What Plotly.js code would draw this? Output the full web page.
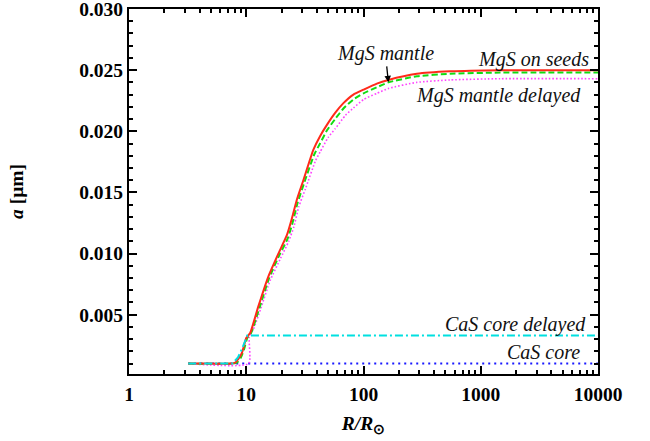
<!DOCTYPE html>
<html>
<head>
<meta charset="utf-8">
<script src="https://cdn.plot.ly/plotly-3.0.1.min.js"></script>
<style>
  html, body { margin: 0; padding: 0; background: #fff; }
  #chart { width: 650px; height: 441px; }
</style>
</head>
<body>
<div id="chart"></div>
<script>
// Grain radius a [um] versus distance R/Rsun for the sulphide dust models
var seedsR  = [3.2, 5, 7.5, 8.0, 8.6, 9.2, 10, 10.8, 12.7, 15.4, 18.8, 22.2, 24.4, 27, 30.7, 37.4, 42.6, 48.6, 57.3, 67.4, 82, 100, 130, 163, 285, 548, 1465, 10000];
var seedsA  = [0.0010, 0.0010, 0.0010, 0.00107, 0.0014, 0.0019, 0.0031, 0.0035, 0.0057, 0.0081, 0.0100, 0.0115, 0.0128, 0.0144, 0.0160, 0.0185, 0.0196, 0.0205, 0.0215, 0.0223, 0.0230, 0.0234, 0.0239, 0.0242, 0.0247, 0.0249, 0.0250, 0.0250];

var mantleR = [3.2, 7.5, 8.3, 9.0, 9.6, 10.2, 11, 13, 15.7, 19.2, 22.5, 24.8, 27.5, 31, 38, 42.6, 49, 57.3, 68, 82, 100, 130, 163, 285, 548, 1465, 10000];
var mantleA = [0.0010, 0.0010, 0.00107, 0.0015, 0.0022, 0.0031, 0.0035, 0.0056, 0.0080, 0.0099, 0.0112, 0.0125, 0.0142, 0.0157, 0.0181, 0.0190, 0.0201, 0.0210, 0.0219, 0.0226, 0.0231, 0.0236, 0.0240, 0.0245, 0.0247, 0.0248, 0.0248];

var delayedR = [3.2, 10.5, 10.6, 11.5, 13.3, 16, 19.6, 23, 25.5, 28, 32, 39, 42.6, 50, 57.3, 70, 82, 100, 130, 163, 285, 548, 1465, 10000];
var delayedA = [0.0010, 0.0010, 0.0032, 0.0038, 0.0055, 0.0078, 0.0096, 0.0110, 0.0122, 0.0138, 0.0153, 0.0176, 0.0183, 0.0195, 0.0202, 0.0213, 0.0219, 0.0226, 0.0231, 0.0235, 0.0240, 0.0242, 0.0243, 0.0243];

var coreDelayedR = [3.2, 7.6, 8.5, 9.3, 10.2, 10000];
var coreDelayedA = [0.0010, 0.0010, 0.0015, 0.0023, 0.0033, 0.0033];

var coreR = [3.2, 10000];
var coreA = [0.0010, 0.0010];

// Axis ticks
var xMajor = [1, 10, 100, 1000, 10000];
var xMajorText = ['1', '10', '100', '1000', '10000'];
var yMajor = [0.005, 0.010, 0.015, 0.020, 0.025, 0.030];
var yMajorText = ['0.005', '0.010', '0.015', '0.020', '0.025', '0.030'];

var xMinor = [];
[1, 10, 100, 1000].forEach(function (d) {
  for (var m = 2; m <= 9; m++) xMinor.push(m * d);
});
var yMinor = [];
for (var i = 1; i < 30; i++) {
  if (i % 5 !== 0) yMinor.push(i / 1000);
}

var serif = 'Liberation Serif, Times New Roman, serif';

var traces = [
  { x: coreR, y: coreA, mode: 'lines', name: 'CaS core',
    line: { color: '#1a1aff', width: 2, dash: '2px,4px' } },
  { x: delayedR, y: delayedA, mode: 'lines', name: 'MgS mantle delayed',
    line: { color: '#ff44ff', width: 1.6, dash: '1.6px,2px', shape: 'spline', smoothing: 0.5 } },
  { x: mantleR, y: mantleA, mode: 'lines', name: 'MgS mantle',
    line: { color: '#11dd11', width: 2, dash: '6px,3px', shape: 'spline', smoothing: 0.5 } },
  { x: seedsR, y: seedsA, mode: 'lines', name: 'MgS on seeds',
    line: { color: '#ff2a1a', width: 2, shape: 'spline', smoothing: 0.5 } },
  { x: coreDelayedR, y: coreDelayedA, mode: 'lines', name: 'CaS core delayed',
    line: { color: '#00e0e0', width: 2, dash: '8px,3px,2px,3px' } }
];

// the "MgS mantle" label points at this sample of its curve
var arrowIdx = mantleR.indexOf(163);

var annFont = { family: serif, size: 20, style: 'italic', color: '#111' };
var tickFont = { family: serif, size: 19.5, weight: 'bold', color: '#000' };
var titleFont = { family: serif, size: 19.5, weight: 'bold', color: '#000' };

var layout = {
  width: 650, height: 441,
  margin: { l: 129, r: 52, t: 9, b: 67 },
  paper_bgcolor: '#fff', plot_bgcolor: '#fff',
  showlegend: false,
  xaxis: {
    type: 'log', range: [0, 4],
    tickmode: 'array', tickvals: xMajor, ticktext: xMajorText,
    ticks: 'inside', ticklen: 8, tickwidth: 1.5, tickcolor: '#000',
    minor: { tickmode: 'array', tickvals: xMinor, ticks: 'inside', ticklen: 4,
             tickwidth: 1.5, tickcolor: '#000', showgrid: false },
    showline: true, linewidth: 2, linecolor: '#000', mirror: 'ticks',
    showgrid: false, zeroline: false, ticklabelstandoff: 2,
    tickfont: tickFont,
    title: { text: '<i>R/R</i><sub>⊙</sub>', standoff: 12, font: titleFont }
  },
  yaxis: {
    range: [0.00015, 0.030],
    tickmode: 'array', tickvals: yMajor, ticktext: yMajorText,
    ticks: 'inside', ticklen: 8, tickwidth: 1.5, tickcolor: '#000',
    minor: { tickmode: 'array', tickvals: yMinor, ticks: 'inside', ticklen: 4,
             tickwidth: 1.5, tickcolor: '#000', showgrid: false },
    showline: true, linewidth: 2, linecolor: '#000', mirror: 'ticks',
    showgrid: false, zeroline: false, ticklabeloverflow: 'allow',
    tickfont: tickFont,
    title: { text: '<i>a</i> [μm]', standoff: 50, font: titleFont }
  },
  annotations: [
    { xref: 'paper', yref: 'paper', x: 0.985, y: 0.863, xanchor: 'right', yanchor: 'middle',
      text: 'MgS on seeds', showarrow: false, font: annFont },
    { xref: 'paper', yref: 'paper', x: 0.968, y: 0.764, xanchor: 'right', yanchor: 'middle',
      text: 'MgS mantle delayed', showarrow: false, font: annFont },
    { xref: 'paper', yref: 'paper', x: 0.978, y: 0.136, xanchor: 'right', yanchor: 'middle',
      text: 'CaS core delayed', showarrow: false, font: annFont },
    { xref: 'paper', yref: 'paper', x: 0.965, y: 0.0595, xanchor: 'right', yanchor: 'middle',
      text: 'CaS core', showarrow: false, font: annFont },
    { xref: 'x', yref: 'y', x: Math.log10(mantleR[arrowIdx]), y: mantleA[arrowIdx],
      text: 'MgS mantle', showarrow: true, ax: -3, ay: -29,
      arrowhead: 2, arrowsize: 1, arrowwidth: 1.3, arrowcolor: '#000', standoff: 0,
      font: annFont }
  ]
};

Plotly.newPlot('chart', traces, layout, { displayModeBar: false });
</script>
</body>
</html>
